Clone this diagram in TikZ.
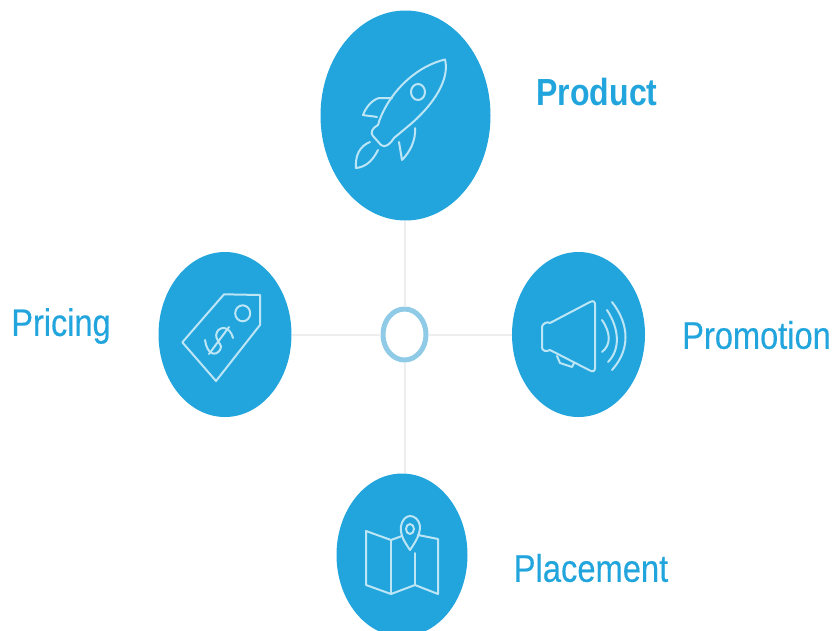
\documentclass[tikz,border=0pt]{standalone}
\usepackage{fontspec}
\setmainfont{Liberation Sans}
\usetikzlibrary{shapes.geometric}
\definecolor{dotblue}{HTML}{22A5DC}
\definecolor{ringblue}{HTML}{8FCBE6}
\definecolor{linegray}{HTML}{EDEFEF}
\definecolor{iconline}{HTML}{BCE5F6}
\tikzset{
  dot/.style={ellipse,fill=dotblue,draw=none,inner sep=0pt},
  ring/.style={ellipse,draw=ringblue,fill=white,line width=5pt,inner sep=0pt,outer sep=2.5pt,minimum width=43pt,minimum height=51pt},
  link/.style={draw=linegray,line width=2pt},
  icon/.style={draw=iconline,line width=2pt,line join=round,line cap=round},
  lab/.style={text=dotblue,inner sep=0pt,anchor=center}
}
\begin{document}
\begin{tikzpicture}[x=1pt,y=-1pt]
\useasboundingbox (0,0) rectangle (833,630);
\node[ring] (hub) at (404.5,334.5) {};
\node[dot,minimum width=170pt,minimum height=210pt] (product) at (405.5,115.5) {};
\node[dot,minimum width=133pt,minimum height=165pt] (pricing) at (225,334.5) {};
\node[dot,minimum width=133pt,minimum height=165pt] (promotion) at (578.5,334.5) {};
\node[dot,minimum width=131pt,minimum height=163pt] (placement) at (402,555) {};
\draw[link] (product.south -| hub.north) -- (hub.north);
\draw[link] (pricing.east) -- (hub.west);
\draw[link] (promotion.west) -- (hub.east);
\draw[link] (placement.north -| hub.south) -- (hub.south);
% rocket
\draw[icon] (378,125) .. controls (385,100) and (410,68) .. (445,59.5)
  .. controls (449,75) and (440,98) .. (412,123) -- (394,138);
\draw[icon] (378,125) .. controls (372,128) and (370,133) .. (373,136) -- (381,145) .. controls (385,149) and (391,143) .. (394,138);
\draw[icon] (392,98) -- (379,98) .. controls (372,100) and (366,107) .. (363,115) .. controls (368,116) and (372,116) .. (377,117);
\draw[icon] (415,128) .. controls (416,140) and (410,152) .. (402,160) -- (399,142);
\draw[icon] (370,142) .. controls (360,146) and (355,155) .. (356,168)
  .. controls (365,167) and (372,162) .. (378,150);
\draw[icon] (418,92) ellipse [x radius=7,y radius=8];
% tag
\draw[icon] (182.3,342.3) -- (224,294.3) -- (260,295) -- (260,325) -- (216,381) -- cycle;
\draw[icon] (242.7,313.3) ellipse [x radius=7.5,y radius=8];
\draw[icon] (233,338) .. controls (230,326) and (220,326) .. (217,332)
  .. controls (213,340) and (225,346) .. (220,350) .. controls (215,357) and (207,354) .. (205,340);
\draw[icon] (209,354) -- (229,327);
% megaphone
\draw[icon] (550,323) -- (590,302) .. controls (594,300) and (595,302) .. (595,305)
  -- (595,368) .. controls (595,372) and (592,372) .. (589,370) -- (550,350)
  .. controls (546,352) and (543,351) .. (542,348) -- (542,327) .. controls (542,324) and (547,321) .. (550,323) -- cycle;
\draw[icon] (557,356) -- (560,363) -- (572,367) -- (574,363);
\draw[icon] (602,320) .. controls (611,333) and (611,345) .. (602,352);
\draw[icon] (607,310) .. controls (620,330) and (620,350) .. (608,362);
\draw[icon] (612,302) .. controls (630,325) and (630,350) .. (612,370);
% map
\draw[icon] (402,536) -- (391,540) -- (366,531) -- (366,585) -- (391,594) -- (415,585) -- (438,594) -- (438,539) -- (418,535);
\draw[icon] (391,540) -- (391,594);
\draw[icon] (415,553) -- (415,585);
\draw[icon] (410,550) .. controls (404,541) and (400,535) .. (401,526)
  .. controls (402,520) and (406,516) .. (410,516) .. controls (415,516) and (419,520) .. (420,526)
  .. controls (420,535) and (416,541) .. (410,550) -- cycle;
\draw[icon] (410,529) ellipse [x radius=4,y radius=5];
% labels
\node[lab] (tproduct) at (597,92) {\scalebox{1}[1.18]{\fontsize{32}{36}\selectfont\bfseries Product}};
\node[lab] (tpricing) at (61,326) {\scalebox{1}[1.18]{\fontsize{32.5}{36}\selectfont\addfontfeature{FakeBold=0.3}Pricing}};
\node[lab] (tpromotion) at (756.5,335) {\scalebox{1}[1.18]{\fontsize{32.6}{36}\selectfont\addfontfeature{FakeBold=0.3}Promotion}};
\node[lab] (tplacement) at (591,568) {\scalebox{1}[1.18]{\fontsize{32.7}{36}\selectfont\addfontfeature{FakeBold=0.3}Placement}};
\end{tikzpicture}
\end{document}
